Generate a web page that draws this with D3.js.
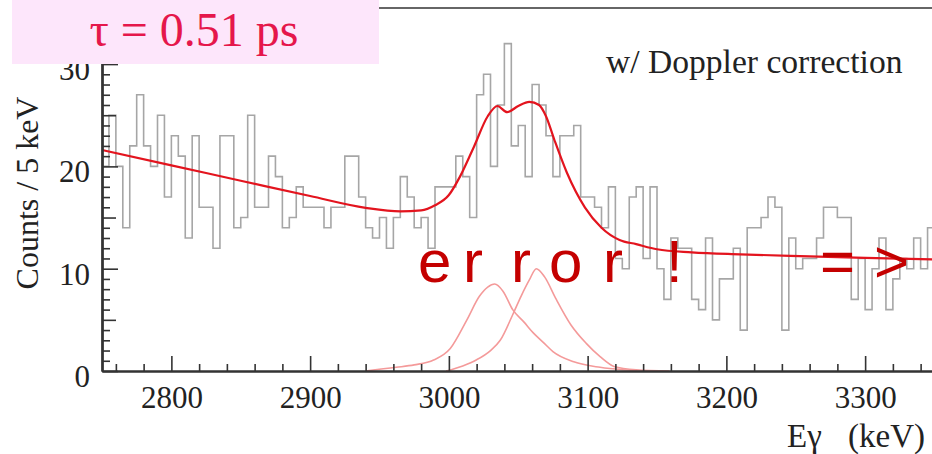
<!DOCTYPE html>
<html>
<head>
<meta charset="utf-8">
<script src="https://cdn.jsdelivr.net/npm/d3@7"></script>
<style>
  html, body { margin: 0; padding: 0; background: #fff; }
  svg { display: block; }
  .tick text { font-family: "Liberation Serif", "Times New Roman", serif; }
</style>
</head>
<body>
<svg id="chart" width="932" height="454"></svg>
<script>
// Gamma-ray spectrum, 5 keV bins starting at 2750 keV
const binStart = 2750;
const binWidth = 5;
const counts = [
  20, 25, 20, 14, 22, 27, 22, 20, 25, 17,
  23, 21, 13, 23, 16, 16, 12, 23, 23, 14,
  15, 25, 16, 16, 21, 19, 14, 15, 18, 16,
  16, 16, 14, 16, 16, 21, 21, 17, 14, 13,
  15, 12, 15, 19, 17, 14, 15, 12, 18, 18,
  18, 21, 19, 15, 27, 29, 20, 26, 32, 22,
  24, 19, 28, 26, 23, 19, 23, 23, 24, 17,
  17, 16, 14, 18, 11, 10, 17, 18, 11, 18,
  10, 7, 13, 12, 12, 7, 6, 13, 5, 9,
  9, 12, 4, 14, 14, 15, 17, 16, 4, 13,
  10, 11, 11, 13, 16, 16, 15, 15, 7, 11,
  6, 10, 13, 6, 9, 11, 10, 13, 10, 14
];

// Total fit (background + two line shapes)
const fitE = [2750, 2800, 2850, 2900, 2940, 2965, 2980, 2990, 3000, 3008, 3018, 3028, 3035, 3042,
              3050, 3058, 3065, 3070, 3076, 3085, 3098, 3110, 3123, 3135, 3150, 3175, 3210, 3260, 3300, 3350];
const fitV = [21.6, 20.1, 18.6, 17.1, 15.95, 15.6, 15.7, 16.2, 17.2, 19.0, 21.9, 24.9, 25.9, 25.3,
              25.9, 26.3, 26.0, 24.9, 22.6, 19.4, 16.0, 14.0, 12.8, 12.4, 11.9, 11.6, 11.4, 11.2, 11.05, 10.9];

// Component line shapes
const peak1E = [2940, 2962, 2975, 2989, 3001, 3013, 3022, 3028, 3033, 3039, 3046, 3054, 3061, 3068, 3075, 3090, 3109, 3125, 3140];
const peak1V = [0, 0.36, 0.6, 1.07, 2.2, 5.0, 7.3, 8.2, 8.5, 7.8, 6.0, 4.8, 3.7, 2.8, 1.9, 0.9, 0.36, 0.12, 0];
const peak2E = [2998, 3010, 3020, 3030, 3037, 3046, 3052, 3058, 3063, 3069, 3077, 3088, 3099, 3109, 3119, 3135, 3159];
const peak2V = [0, 0.5, 1.1, 2.0, 3.0, 5.5, 7.3, 8.9, 10.0, 9.2, 7.1, 4.5, 2.7, 1.4, 0.45, 0.12, 0];

const xMajor = [2800, 2900, 3000, 3100, 3200, 3300];
const yMajor = [0, 10, 20, 30];

const svg = d3.select("#chart");
const x = d3.scaleLinear().domain([2750, 3350]).range([102, 934.5]);
const y = d3.scaleLinear().domain([0, 35.48]).range([371, 8]);

const serif = '"Liberation Serif", "Times New Roman", serif';

// Histogram outline as a step path
const bins = counts.map((c, i) => ({ x0: binStart + i * binWidth, x1: binStart + (i + 1) * binWidth, c }));
let histPath = "";
bins.forEach((b, i) => {
  histPath += (i === 0 ? "M" : "L") + x(b.x0) + "," + y(b.c) + "L" + x(b.x1) + "," + y(b.c);
});
svg.append("path")
  .attr("d", histPath)
  .attr("fill", "none")
  .attr("stroke", "#a6a6a6")
  .attr("stroke-width", 1.6);

// Components
const line = d3.line().x(d => x(d[0])).y(d => y(d[1])).curve(d3.curveMonotoneX);
[[peak1E, peak1V], [peak2E, peak2V]].forEach(([es, vs]) => {
  svg.append("path")
    .attr("d", line(es.map((e, i) => [e, vs[i]])))
    .attr("fill", "none")
    .attr("stroke", "#f49a9a")
    .attr("stroke-width", 1.6);
});

// Total fit
svg.append("path")
  .attr("d", line(fitE.map((e, i) => [e, fitV[i]])))
  .attr("fill", "none")
  .attr("stroke", "#e3141e")
  .attr("stroke-width", 2.2);

// Axes
const xMinor = d3.range(2760, 3351, 20).filter(v => v % 100 !== 0);
const xAxisMinor = d3.axisBottom(x).tickValues(xMinor).tickSize(-7).tickSizeOuter(0).tickFormat("");
const xAxisMajor = d3.axisBottom(x).tickValues(xMajor).tickSize(-15).tickSizeOuter(0).tickPadding(15).tickFormat(d3.format("d"));
const gx1 = svg.append("g").attr("transform", "translate(0,371)").call(xAxisMinor);
const gx2 = svg.append("g").attr("transform", "translate(0,371)").call(xAxisMajor);

const yMinor = d3.range(0, 36, 1).filter(v => v % 5 !== 0);
const yMid = [5, 15, 25, 35];
const yAxisMinor = d3.axisLeft(y).tickValues(yMinor).tickSize(-8).tickSizeOuter(0).tickFormat("");
const yAxisMid = d3.axisLeft(y).tickValues(yMid).tickSize(-14).tickSizeOuter(0).tickFormat("");
const yAxisMajor = d3.axisLeft(y).tickValues(yMajor).tickSize(-16).tickSizeOuter(0).tickPadding(12).tickFormat(d3.format("d"));
const gy1 = svg.append("g").attr("transform", "translate(102,0)").call(yAxisMinor);
const gy2 = svg.append("g").attr("transform", "translate(102,0)").call(yAxisMid);
const gy3 = svg.append("g").attr("transform", "translate(102,0)").call(yAxisMajor);

[gx1, gx2, gy1, gy2, gy3].forEach(g => {
  g.selectAll(".domain").attr("stroke", "#333").attr("stroke-width", 2);
  g.selectAll(".tick line").attr("stroke", "#333").attr("stroke-width", 1.6);
  g.selectAll(".tick text").attr("font-size", 31).attr("fill", "#222").attr("font-family", serif);
});
gy3.selectAll(".tick text").attr("dy", "0.5em");

// Top frame edge
svg.append("line")
  .attr("x1", 102).attr("x2", 934.5).attr("y1", y(35.48)).attr("y2", y(35.48))
  .attr("stroke", "#666").attr("stroke-width", 1.8);

// Axis titles
svg.append("text")
  .attr("transform", "translate(38,193) rotate(-90)")
  .attr("text-anchor", "middle")
  .attr("font-family", serif).attr("font-size", 32).attr("fill", "#222")
  .text("Counts / 5 keV");
svg.append("text")
  .attr("x", 787).attr("y", 447)
  .attr("font-family", serif).attr("font-size", 33).attr("fill", "#222")
  .text("Eγ");
svg.append("text")
  .attr("x", 848).attr("y", 447)
  .attr("font-family", serif).attr("font-size", 33).attr("fill", "#222")
  .text("(keV)");

svg.append("text")
  .attr("x", 606).attr("y", 73)
  .attr("font-family", serif).attr("font-size", 33.6).attr("fill", "#222")
  .text("w/ Doppler correction");

// Lifetime label
svg.append("rect")
  .attr("x", 12).attr("y", 0).attr("width", 367).attr("height", 64)
  .attr("fill", "#fde6fb");
svg.append("text")
  .attr("x", 194).attr("y", 46)
  .attr("text-anchor", "middle")
  .attr("font-family", serif).attr("font-size", 48).attr("fill", "#e5174b")
  .text("τ = 0.51 ps");

// Overlay message
const msg = [["e", 418], ["r", 463], ["r", 511], ["o", 549], ["r", 603], ["!", 666], ["=", 820], [">", 874]];
const msgG = svg.append("text")
  .attr("y", 282)
  .attr("font-family", '"Liberation Sans", Arial, sans-serif')
  .attr("font-size", 60)
  .attr("fill", "#c40000");
msg.forEach(([ch, px]) => msgG.append("tspan").attr("x", px).text(ch));
</script>
</body>
</html>
